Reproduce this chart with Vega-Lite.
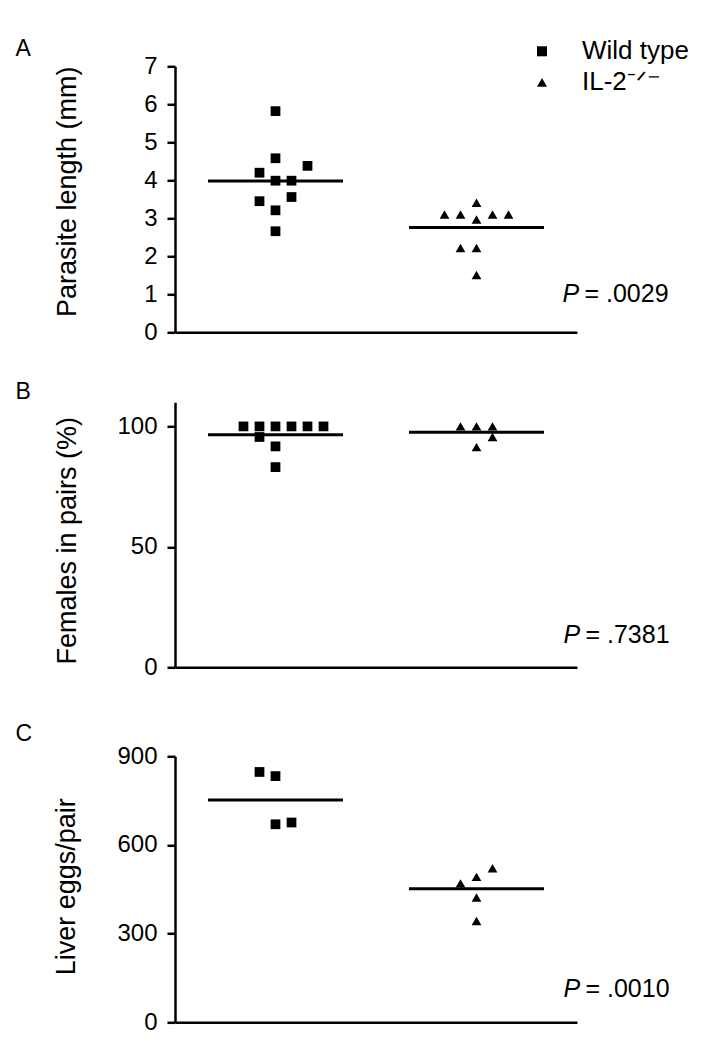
{
  "$schema": "https://vega.github.io/schema/vega-lite/v6.json",
  "padding": {"left": 15, "top": 38.3, "right": 0, "bottom": 0},
  "spacing": 37,
  "config": {
    "font": "Liberation Sans",
    "view": {"stroke": null},
    "axis": {
      "domainColor": "black", "domainWidth": 2.5, "tickColor": "black", "tickWidth": 2.5, "tickSize": 8,
      "labelColor": "black", "labelFont": "Liberation Sans", "labelFontSize": 24, "labelPadding": 10, "labelOverlap": false,
      "titleColor": "black", "titleFont": "Liberation Sans", "titleFontSize": 27, "titleFontWeight": "normal", "grid": false
    },
    "title": {"font": "Liberation Sans", "fontSize": 23, "fontWeight": "normal", "anchor": "start", "frame": "group", "color": "black"},
    "legend": {"labelFont": "Liberation Sans", "labelColor": "black"}
  },
  "vconcat": [
    {
      "width": 402, "height": 266,
      "title": {"text": "A", "dx": -159.5, "offset": -7},
      "layer": [
        {
          "data": {"values": [
            {"group": "Wild type", "slot": 0, "value": 5.82},
            {"group": "Wild type", "slot": 0, "value": 4.58},
            {"group": "Wild type", "slot": 2, "value": 4.38},
            {"group": "Wild type", "slot": -1, "value": 4.2},
            {"group": "Wild type", "slot": 0, "value": 3.99},
            {"group": "Wild type", "slot": 1, "value": 3.99},
            {"group": "Wild type", "slot": -1, "value": 3.45},
            {"group": "Wild type", "slot": 1, "value": 3.56},
            {"group": "Wild type", "slot": 0, "value": 3.21},
            {"group": "Wild type", "slot": 0, "value": 2.66},
            {"group": "IL-2-/-", "slot": 0, "value": 3.41},
            {"group": "IL-2-/-", "slot": -2, "value": 3.1},
            {"group": "IL-2-/-", "slot": -1, "value": 3.1},
            {"group": "IL-2-/-", "slot": 1, "value": 3.1},
            {"group": "IL-2-/-", "slot": 2, "value": 3.1},
            {"group": "IL-2-/-", "slot": 0, "value": 2.97},
            {"group": "IL-2-/-", "slot": -1, "value": 2.22},
            {"group": "IL-2-/-", "slot": 0, "value": 2.22},
            {"group": "IL-2-/-", "slot": 0, "value": 1.51}
          ]},
          "mark": {"type": "point", "filled": true, "color": "black", "opacity": 1, "size": 95},
          "encoding": {
            "x": {"field": "group", "type": "nominal", "sort": ["Wild type", "IL-2-/-"], "scale": {"paddingInner": 0, "paddingOuter": 0}, "axis": {"title": null, "labels": false, "ticks": false}},
            "xOffset": {"field": "slot", "type": "quantitative", "scale": {"domain": [-6.28, 6.28], "range": [0, 201]}},
            "y": {"field": "value", "type": "quantitative", "scale": {"domain": [0, 7], "nice": false}, "axis": {"title": "Parasite length (mm)", "values": [0, 1, 2, 3, 4, 5, 6, 7], "tickCount": 8, "labelOverlap": false, "minExtent": 60, "maxExtent": 60, "titlePadding": 34, "titleY": 125}},
            "shape": {"field": "group", "type": "nominal", "scale": {"domain": ["Wild type", "IL-2-/-"], "range": ["square", "triangle-up"]},
              "legend": {"title": null, "orient": "none", "legendX": 354, "legendY": -28, "padding": 0, "symbolSize": 100, "symbolFillColor": "black", "symbolStrokeColor": "black", "labelFontSize": 26, "labelOffset": 27, "rowPadding": 5,
                "labelExpr": "datum.label == 'IL-2-/-' ? 'IL-2⁻ᐟ⁻' : datum.label"}}
          }
        },
        {
          "data": {"values": [
            {"group": "Wild type", "mean": 3.98},
            {"group": "IL-2-/-", "mean": 2.76}
          ]},
          "mark": {"type": "tick", "color": "black", "thickness": 3, "size": 135, "opacity": 1},
          "encoding": {
            "x": {"field": "group", "type": "nominal", "sort": ["Wild type", "IL-2-/-"]},
            "y": {"field": "mean", "type": "quantitative"}
          }
        },
        {
          "data": {"values": [{"group": "IL-2-/-", "y": 0.79, "p": "= .0029"}]},
          "layer": [
            {
              "mark": {"type": "text", "text": "P", "fontStyle": "italic", "fontSize": 25, "align": "left", "baseline": "alphabetic", "dx": 86, "color": "black"},
              "encoding": {"x": {"field": "group", "type": "nominal", "sort": ["Wild type", "IL-2-/-"]}, "y": {"field": "y", "type": "quantitative"}}
            },
            {
              "mark": {"type": "text", "fontSize": 25, "align": "left", "baseline": "alphabetic", "dx": 108, "color": "black"},
              "encoding": {"x": {"field": "group", "type": "nominal", "sort": ["Wild type", "IL-2-/-"]}, "y": {"field": "y", "type": "quantitative"}, "text": {"field": "p"}}
            }
          ]
        }
      ]
    },
    {
      "width": 402, "height": 265,
      "title": {"text": "B", "dx": -159.5, "offset": -2},
      "layer": [
        {
          "data": {"values": [
            {"group": "Wild type", "slot": -2, "value": 100},
            {"group": "Wild type", "slot": -1, "value": 100},
            {"group": "Wild type", "slot": 0, "value": 100},
            {"group": "Wild type", "slot": 1, "value": 100},
            {"group": "Wild type", "slot": 2, "value": 100},
            {"group": "Wild type", "slot": 3, "value": 100},
            {"group": "Wild type", "slot": -1, "value": 95.6},
            {"group": "Wild type", "slot": 0, "value": 91.7},
            {"group": "Wild type", "slot": 0, "value": 83.1},
            {"group": "IL-2-/-", "slot": -1, "value": 100},
            {"group": "IL-2-/-", "slot": 0, "value": 100},
            {"group": "IL-2-/-", "slot": 1, "value": 100},
            {"group": "IL-2-/-", "slot": 1, "value": 95.6},
            {"group": "IL-2-/-", "slot": 0, "value": 91.4}
          ]},
          "mark": {"type": "point", "filled": true, "color": "black", "opacity": 1, "size": 95},
          "encoding": {
            "x": {"field": "group", "type": "nominal", "sort": ["Wild type", "IL-2-/-"], "scale": {"paddingInner": 0, "paddingOuter": 0}, "axis": {"title": null, "labels": false, "ticks": false, "minExtent": 18.7}},
            "xOffset": {"field": "slot", "type": "quantitative", "scale": {"domain": [-6.28, 6.28], "range": [0, 201]}},
            "y": {"field": "value", "type": "quantitative", "scale": {"domain": [0, 110], "nice": false}, "axis": {"title": "Females in pairs (%)", "values": [0, 50, 100], "minExtent": 60, "maxExtent": 60, "titlePadding": 34, "titleY": 138}},
            "shape": {"field": "group", "type": "nominal", "scale": {"domain": ["Wild type", "IL-2-/-"], "range": ["square", "triangle-up"]}, "legend": null}
          }
        },
        {
          "data": {"values": [
            {"group": "Wild type", "mean": 96.5},
            {"group": "IL-2-/-", "mean": 97.6}
          ]},
          "mark": {"type": "tick", "color": "black", "thickness": 3, "size": 135, "opacity": 1},
          "encoding": {
            "x": {"field": "group", "type": "nominal", "sort": ["Wild type", "IL-2-/-"]},
            "y": {"field": "mean", "type": "quantitative"}
          }
        },
        {
          "data": {"values": [{"group": "IL-2-/-", "y": 10, "p": "= .7381"}]},
          "layer": [
            {
              "mark": {"type": "text", "text": "P", "fontStyle": "italic", "fontSize": 25, "align": "left", "baseline": "alphabetic", "dx": 87, "color": "black"},
              "encoding": {"x": {"field": "group", "type": "nominal", "sort": ["Wild type", "IL-2-/-"]}, "y": {"field": "y", "type": "quantitative"}}
            },
            {
              "mark": {"type": "text", "fontSize": 25, "align": "left", "baseline": "alphabetic", "dx": 109, "color": "black"},
              "encoding": {"x": {"field": "group", "type": "nominal", "sort": ["Wild type", "IL-2-/-"]}, "y": {"field": "y", "type": "quantitative"}, "text": {"field": "p"}}
            }
          ]
        }
      ]
    },
    {
      "width": 402, "height": 266,
      "title": {"text": "C", "dx": -159.5, "offset": -2},
      "layer": [
        {
          "data": {"values": [
            {"group": "Wild type", "slot": -1, "value": 847},
            {"group": "Wild type", "slot": 0, "value": 833},
            {"group": "Wild type", "slot": 0, "value": 670},
            {"group": "Wild type", "slot": 1, "value": 676},
            {"group": "IL-2-/-", "slot": -1, "value": 470},
            {"group": "IL-2-/-", "slot": 0, "value": 492},
            {"group": "IL-2-/-", "slot": 1, "value": 521},
            {"group": "IL-2-/-", "slot": 0, "value": 422},
            {"group": "IL-2-/-", "slot": 0, "value": 343}
          ]},
          "mark": {"type": "point", "filled": true, "color": "black", "opacity": 1, "size": 95},
          "encoding": {
            "x": {"field": "group", "type": "nominal", "sort": ["Wild type", "IL-2-/-"], "scale": {"paddingInner": 0, "paddingOuter": 0}, "axis": {"title": null, "labels": false, "ticks": false}},
            "xOffset": {"field": "slot", "type": "quantitative", "scale": {"domain": [-6.28, 6.28], "range": [0, 201]}},
            "y": {"field": "value", "type": "quantitative", "scale": {"domain": [0, 900], "nice": false}, "axis": {"title": "Liver eggs/pair", "values": [0, 300, 600, 900], "minExtent": 60, "maxExtent": 60, "titlePadding": 35, "titleY": 130}},
            "shape": {"field": "group", "type": "nominal", "scale": {"domain": ["Wild type", "IL-2-/-"], "range": ["square", "triangle-up"]}, "legend": null}
          }
        },
        {
          "data": {"values": [
            {"group": "Wild type", "mean": 752},
            {"group": "IL-2-/-", "mean": 452}
          ]},
          "mark": {"type": "tick", "color": "black", "thickness": 3, "size": 135, "opacity": 1},
          "encoding": {
            "x": {"field": "group", "type": "nominal", "sort": ["Wild type", "IL-2-/-"]},
            "y": {"field": "mean", "type": "quantitative"}
          }
        },
        {
          "data": {"values": [{"group": "IL-2-/-", "y": 87, "p": "= .0010"}]},
          "layer": [
            {
              "mark": {"type": "text", "text": "P", "fontStyle": "italic", "fontSize": 25, "align": "left", "baseline": "alphabetic", "dx": 87, "color": "black"},
              "encoding": {"x": {"field": "group", "type": "nominal", "sort": ["Wild type", "IL-2-/-"]}, "y": {"field": "y", "type": "quantitative"}}
            },
            {
              "mark": {"type": "text", "fontSize": 25, "align": "left", "baseline": "alphabetic", "dx": 109, "color": "black"},
              "encoding": {"x": {"field": "group", "type": "nominal", "sort": ["Wild type", "IL-2-/-"]}, "y": {"field": "y", "type": "quantitative"}, "text": {"field": "p"}}
            }
          ]
        }
      ]
    }
  ]
}
